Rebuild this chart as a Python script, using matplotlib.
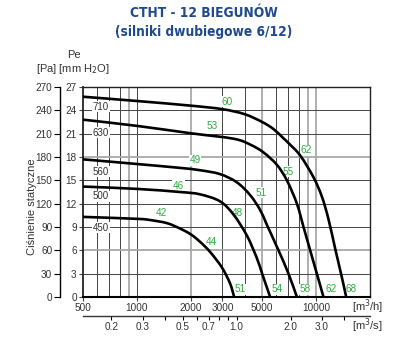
import matplotlib
matplotlib.use("Agg")
import numpy as np
import matplotlib.pyplot as plt
from matplotlib.path import Path
from matplotlib.patches import PathPatch
from matplotlib.ticker import FixedLocator, NullLocator, NullFormatter

plt.rcParams["font.family"] = ["Liberation Sans", "DejaVu Sans"]

# ---- data (flow in m3/h, static pressure in mm H2O) ----
q450 = [500, 1000, 1180, 1470, 1740, 2000, 2250, 2560, 2980, 3310, 3490]
p450 = [10.3, 10.05, 9.9, 9.5, 8.8, 8.05, 7.1, 5.8, 3.8, 1.75, 0]

q500 = [500, 1000, 1740, 2250, 2910, 3460, 4110, 4670, 5000, 5540]
p500 = [14.2, 13.9, 13.5, 13.2, 12.3, 10.6, 7.9, 5.0, 3.0, 0]

q560 = [500, 1000, 1740, 2250, 2910, 3610, 4285, 4870, 5310, 6170, 7015, 7815]
p560 = [17.7, 17.1, 16.6, 16.3, 15.8, 14.75, 13.1, 11.2, 9.3, 6.0, 3.0, 0]

q630 = [500, 1000, 2000, 3460, 4285, 5080, 6040, 6870, 7815, 8510, 9270, 10100, 11000]
p630 = [22.8, 22.0, 21.05, 20.35, 19.6, 18.6, 17.0, 15.0, 12.0, 9.0, 6.0, 3.0, 0]

q710 = [500, 1000, 2000, 3000, 4000, 5000, 5780, 6580, 7010, 8150, 9670, 10780, 11730, 12790, 13940, 14730]
p710 = [25.75, 25.2, 24.6, 24.15, 23.5, 22.5, 21.6, 20.4, 19.8, 18.2, 15.4, 12.9, 10.0, 6.2, 2.5, 0]

curves = [(q450, p450), (q500, p500), (q560, p560), (q630, p630), (q710, p710)]

sizes = ["450", "500", "560", "630", "710"]
size_label_q = 630
size_label_p = [8.88, 12.96, 16.09, 21.1, 24.46]

noise_text = ["42", "46", "49", "53", "60", "44", "48", "51", "55", "62", "51", "54", "58", "62", "68"]
noise_q = [1375, 1705, 2112, 2640, 3176, 2618, 3650, 4936, 6960, 8806, 3768, 6040, 8694, 12150, 15700]
noise_p = [10.81, 14.29, 17.6, 21.97, 25.1, 7.08, 10.81, 13.38, 16.09, 18.88, 0.99, 0.99, 0.99, 0.99, 1.05]

grid_q_dark = [600, 700, 800, 1000, 3000, 4000, 6000, 7000, 8000]
grid_q_gray = [900, 2000, 5000, 9000, 10000]
grid_p_dark = [3, 9, 12, 15, 21, 24, 27]
grid_p_gray = [6, 18]

xticks_m3h = [500, 1000, 2000, 3000, 5000, 10000]
xticks_m3h_lbl = ["500", "1000", "2000", "3000", "5000", "10000"]
xticks_m3s = [0.2, 0.3, 0.4, 0.5, 0.6, 0.7, 0.8, 0.9, 1.0, 2.0, 3.0, 4.0]
xticks_m3s_lbl = ["0.2", "0.3", "", "0.5", "", "0.7", "", "", "1.0", "2.0", "3.0", ""]
yticks_mm = [0, 3, 6, 9, 12, 15, 18, 21, 24, 27]
yticks_pa = [0, 30, 60, 90, 120, 150, 180, 210, 240, 270]

GREEN = "#2fae3f"
TXT = "#333333"
BLUE = "#1f4a8c"


def smooth_path(qs, ps):
    """Catmull-Rom through the read points, drawn as cubic Bezier segments
    (computed in log-flow space, so it follows the log axis)."""
    x = np.log10(np.asarray(qs, float))
    y = np.asarray(ps, float)
    n = len(x)
    verts = [(qs[0], ps[0])]
    codes = [Path.MOVETO]
    for i in range(n - 1):
        x0, y0 = (x[i - 1], y[i - 1]) if i > 0 else (x[i], y[i])
        x1, y1 = x[i], y[i]
        x2, y2 = x[i + 1], y[i + 1]
        x3, y3 = (x[i + 2], y[i + 2]) if i + 2 < n else (x[i + 1], y[i + 1])
        c1 = (x1 + (x2 - x0) / 6.0, y1 + (y2 - y0) / 6.0)
        c2 = (x2 - (x3 - x1) / 6.0, y2 - (y3 - y1) / 6.0)
        verts += [(10 ** c1[0], c1[1]), (10 ** c2[0], c2[1]), (qs[i + 1], ps[i + 1])]
        codes += [Path.CURVE4] * 3
    return Path(verts, codes)


fig = plt.figure(figsize=(4.07, 3.55), dpi=100)
fig.patch.set_facecolor("white")
ax = fig.add_axes([83 / 407, 58 / 355, 287 / 407, 210 / 355])
ax.set_xscale("log")
ax.set_xlim(500, 20000)
ax.set_ylim(0, 27)

for qg in grid_q_dark:
    ax.axvline(qg, color="#444444", lw=0.7, zorder=1)
for qg in grid_q_gray:
    ax.axvline(qg, color="#a8a8a8", lw=1.3, zorder=1)
for pg in grid_p_dark:
    ax.axhline(pg, color="#444444", lw=0.7, zorder=1)
for pg in grid_p_gray:
    ax.axhline(pg, color="#a8a8a8", lw=1.3, zorder=1)

for qq, pp in curves:
    ax.add_patch(PathPatch(smooth_path(qq, pp), fill=False, ec="black", lw=1.9,
                           zorder=5, capstyle="butt"))

for s, yp in zip(sizes, size_label_p):
    ax.text(size_label_q, yp, s, fontsize=7, color=TXT, ha="center", va="center", zorder=4,
            bbox=dict(boxstyle="square,pad=0.05", fc="white", ec="none"))

for t, qn, pn in zip(noise_text, noise_q, noise_p):
    ax.text(qn, pn, t, fontsize=7.2, color=GREEN, ha="center", va="center", zorder=4,
            bbox=dict(boxstyle="square,pad=0.05", fc="white", ec="none"))

# spines
for side in ["left", "right", "top"]:
    ax.spines[side].set_color("#222222")
    ax.spines[side].set_linewidth(1.0)
ax.spines["bottom"].set_color("black")
ax.spines["bottom"].set_linewidth(1.5)
ax.spines["left"].set_linewidth(1.3)

ax.xaxis.set_major_locator(FixedLocator(xticks_m3h))
ax.set_xticklabels(xticks_m3h_lbl)
ax.xaxis.set_minor_locator(NullLocator())
ax.xaxis.set_minor_formatter(NullFormatter())
ax.set_yticks(yticks_mm)
ax.tick_params(axis="x", which="major", direction="out", length=3, width=0.8, pad=1.5,
               labelsize=7.2, labelcolor=TXT, color="#444444")
ax.tick_params(axis="y", which="major", direction="out", length=3, width=0.8, pad=1.5,
               labelsize=7.2, labelcolor=TXT, color="#444444")

# Pa axis
secy = ax.secondary_yaxis(-23 / 287, functions=(lambda y: y * 10, lambda p: p / 10))
secy.set_yticks(yticks_pa)
secy.tick_params(direction="out", length=4, width=0.8, pad=1.5, labelsize=7.2, labelcolor=TXT)
secy.spines["left"].set_linewidth(1.0)

# m3/s axis
secx = ax.secondary_xaxis(-19 / 210, functions=(lambda q: q / 3600, lambda s: s * 3600))
secx.xaxis.set_major_locator(FixedLocator(xticks_m3s))
secx.set_xticklabels(xticks_m3s_lbl)
secx.xaxis.set_minor_locator(NullLocator())
secx.xaxis.set_minor_formatter(NullFormatter())
secx.tick_params(direction="out", length=3, width=0.8, pad=1.5, labelsize=7.2, labelcolor=TXT)
secx.spines["bottom"].set_linewidth(1.0)
secx.spines["bottom"].set_color("#333333")

# unit texts
fig.text(352 / 407, 1 - 307 / 355, "[m$^3$/h]", fontsize=8, color=TXT, ha="left", va="center")
fig.text(352 / 407, 1 - 326 / 355, "[m$^3$/s]", fontsize=8, color=TXT, ha="left", va="center")
fig.text(74 / 407, 1 - 55 / 355, "Pe", fontsize=8, color=TXT, ha="center", va="center")
fig.text(73 / 407, 1 - 69 / 355, "[Pa] [mm H$_2$O]", fontsize=8, color=TXT, ha="center", va="center")
fig.text(32 / 407, 1 - 207 / 355, "Ciśnienie statyczne", fontsize=8, color=TXT, ha="center",
         va="center", rotation=90)

# title
tfam = ["Liberation Sans Narrow", "DejaVu Sans"]
fig.text(204 / 407, 1 - 13 / 355, "CTHT - 12 BIEGUNÓW", fontsize=9.8, color=BLUE,
         fontweight="bold", fontstretch="condensed", family=tfam, ha="center", va="center")
fig.text(204 / 407, 1 - 32 / 355, "(silniki dwubiegowe 6/12)", fontsize=9.8, color=BLUE,
         fontweight="bold", fontstretch="condensed", family=tfam, ha="center", va="center")

fig.savefig("out.png", dpi=100, facecolor="white")
